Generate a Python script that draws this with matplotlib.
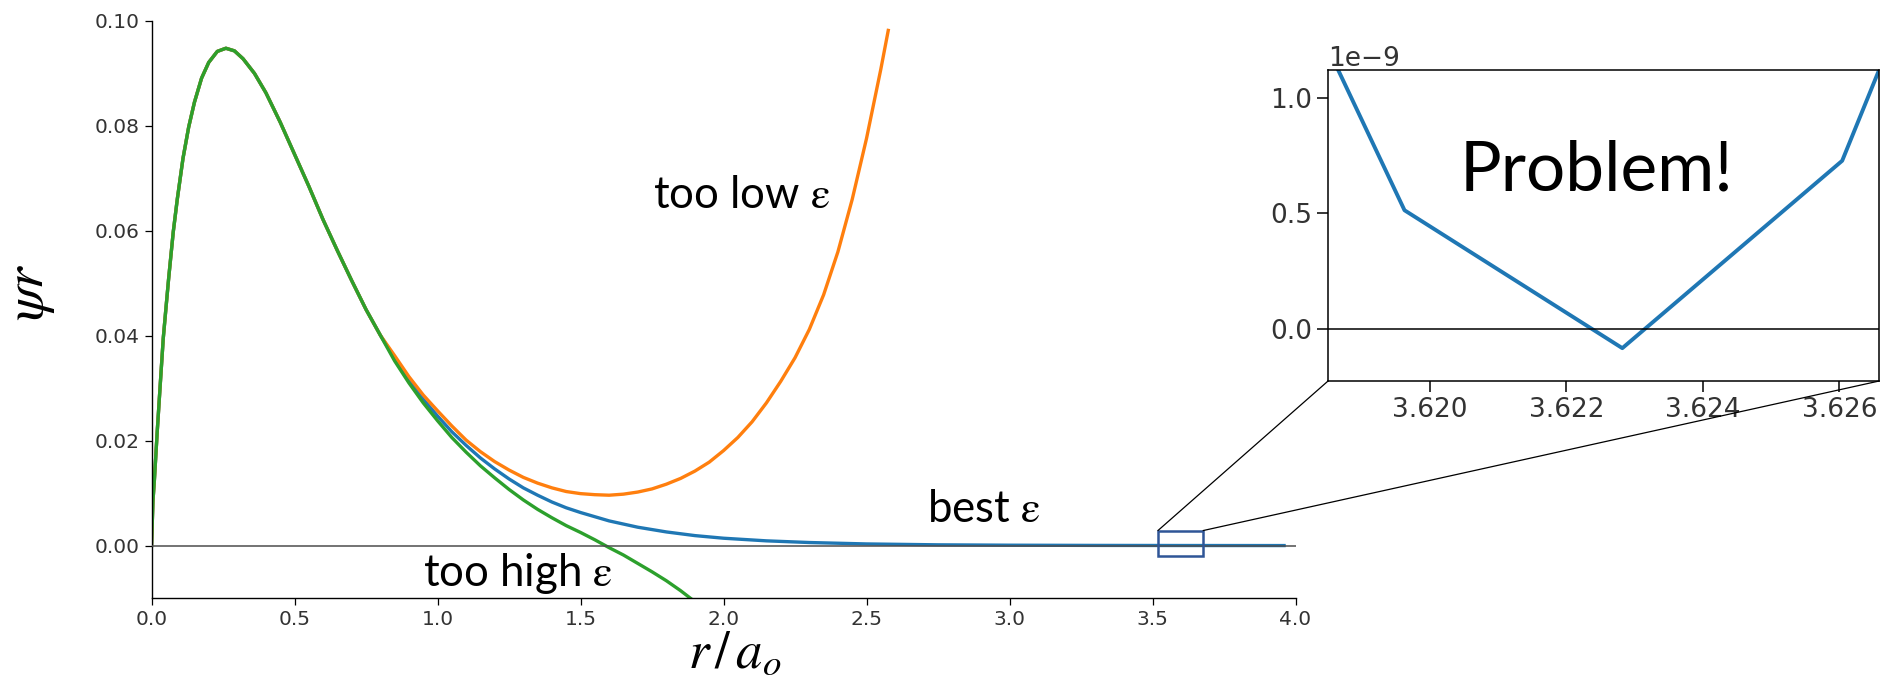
import matplotlib
matplotlib.use('Agg')
import matplotlib.pyplot as plt
from matplotlib.patches import Rectangle, ConnectionPatch

plt.rcParams['mathtext.fontset'] = 'stix'

# shared rising part of all three trial solutions
r_rise = [0.0, 0.005, 0.01, 0.02, 0.03, 0.041, 0.05, 0.06, 0.076, 0.09, 0.11, 0.13, 0.15,
          0.175, 0.20, 0.23, 0.26, 0.29, 0.32, 0.36, 0.40, 0.45, 0.50, 0.55, 0.60, 0.65,
          0.70, 0.75, 0.80]
psi_rise = [0.0, 0.0085, 0.0125, 0.0218, 0.0303, 0.0395, 0.0450, 0.0510, 0.0598, 0.0660,
            0.0738, 0.0798, 0.0845, 0.0891, 0.0921, 0.0942, 0.0948, 0.0943, 0.0928, 0.0900,
            0.0863, 0.0807, 0.0746, 0.0685, 0.0621, 0.0562, 0.0505, 0.0450, 0.0401]

# best epsilon
r_best = [0.85, 0.9, 0.95, 1.0, 1.05, 1.1, 1.15, 1.2, 1.25, 1.3, 1.35, 1.4, 1.45, 1.5,
          1.6, 1.7, 1.8, 1.9, 2.0, 2.15, 2.3, 2.5, 2.75, 3.0, 3.3, 3.6, 3.96]
psi_best = [0.0357, 0.0316, 0.0279, 0.0247, 0.0217, 0.0191, 0.0167, 0.0146, 0.0127, 0.0110,
            0.0096, 0.0083, 0.0072, 0.0063, 0.0047, 0.0035, 0.0026, 0.0019, 0.0014, 0.0009,
            0.00058, 0.00031, 0.00014, 0.00007, 0.00003, 0.00001, 0.0]

# too low epsilon
r_low = [0.85, 0.9, 0.95, 1.0, 1.05, 1.1, 1.15, 1.2, 1.25, 1.3, 1.35, 1.4, 1.45, 1.5, 1.55,
         1.6, 1.65, 1.7, 1.75, 1.8, 1.85, 1.9, 1.95, 2.0, 2.05, 2.1, 2.15, 2.2, 2.25, 2.3,
         2.35, 2.4, 2.45, 2.5, 2.55, 2.576]
psi_low = [0.0362, 0.0322, 0.0287, 0.0257, 0.0228, 0.0201, 0.0179, 0.0160, 0.0144, 0.0130,
           0.0119, 0.0110, 0.0103, 0.0099, 0.0097, 0.0096, 0.0098, 0.0102, 0.0108, 0.0117,
           0.0128, 0.0142, 0.0159, 0.0181, 0.0206, 0.0236, 0.0272, 0.0313, 0.0358, 0.0412,
           0.0478, 0.0560, 0.0660, 0.0776, 0.0908, 0.0982]

# too high epsilon
r_high = [0.85, 0.9, 0.95, 1.0, 1.05, 1.1, 1.15, 1.2, 1.25, 1.3, 1.35, 1.4, 1.45, 1.5, 1.55,
          1.6, 1.65, 1.7, 1.75, 1.8, 1.85, 1.9]
psi_high = [0.0352, 0.0310, 0.0272, 0.0238, 0.0206, 0.0178, 0.0152, 0.0129, 0.0107, 0.0087,
            0.0069, 0.0053, 0.0038, 0.0025, 0.0011, -0.0004, -0.0018, -0.0034, -0.0050,
            -0.0067, -0.0086, -0.0107]

# zoomed-in view of the best solution near its node
r_zoom = [3.61643, 3.61963, 3.62282, 3.62604, 3.62924]
psi_zoom = [2.51e-9, 0.513e-9, -0.083e-9, 0.727e-9, 3.05e-9]

fig = plt.figure(figsize=(18.8, 6.9), dpi=100)
ax = fig.add_axes([0.0806, 0.1333, 0.6085, 0.8363])
axins = fig.add_axes([0.7064, 0.4478, 0.2931, 0.4507])

ax.plot(r_rise + r_best, psi_rise + psi_best, color='#1f77b4', lw=2.4)
ax.plot(r_rise + r_low, psi_rise + psi_low, color='#ff7f0e', lw=2.4)
ax.plot(r_rise + r_high, psi_rise + psi_high, color='#2ca02c', lw=2.4)
ax.axhline(0, color='0.3', lw=1.1, zorder=3)

ax.set_xlim(0, 4)
ax.set_ylim(-0.01, 0.10)
ax.set_xticks([0, 0.5, 1.0, 1.5, 2.0, 2.5, 3.0, 3.5, 4.0])
ax.set_yticks([0, 0.02, 0.04, 0.06, 0.08, 0.10])
ax.spines['top'].set_visible(False)
ax.spines['right'].set_visible(False)
for s in ['left', 'bottom']:
    ax.spines[s].set_linewidth(1.0)
ax.tick_params(labelsize=14.5, labelcolor='0.2', length=5, width=0.9)

ax.set_xlabel(r'$r\,/\,a_o$', fontsize=38)
ax.xaxis.set_label_coords(0.51, -0.05)
ax.set_ylabel(r'$\psi r$', fontsize=40)
ax.yaxis.set_label_coords(-0.083, 0.53)

txt = dict(family=['Lato', 'DejaVu Sans'], fontsize=31.5, ha='left', va='baseline')
eps = r'$\mathrm{\varepsilon}$'
ax.text(1.753, 0.0644, 'too low ' + eps, **txt)
ax.text(2.711, 0.00457, 'best ' + eps, **txt)
ax.text(0.949, -0.0078, 'too high ' + eps, **txt)

# box marking the zoomed region
ax.add_patch(Rectangle((3.519, -0.0019), 0.158, 0.00476, fill=False,
                       edgecolor='#2F5597', lw=1.8, zorder=5))

# inset
axins.plot(r_zoom, psi_zoom, color='#1f77b4', lw=2.8)
axins.axhline(0, color='black', lw=1.1)
axins.set_xlim(3.61851, 3.62658)
axins.set_ylim(-0.225e-9, 1.119e-9)
axins.set_xticks([3.620, 3.622, 3.624, 3.626])
axins.set_yticks([0, 0.5e-9, 1.0e-9])
axins.ticklabel_format(axis='x', useOffset=False)
axins.tick_params(labelsize=19, labelcolor='0.2', length=8, width=1.1)
axins.yaxis.get_offset_text().set_fontsize(19)
axins.yaxis.get_offset_text().set_color('0.2')
for s in axins.spines.values():
    s.set_linewidth(1.1)
axins.text(0.2396, 0.614, 'Problem!', transform=axins.transAxes,
           family=['Lato', 'DejaVu Sans'], fontsize=50, ha='left', va='baseline')

for xa, xb in [(3.519, 0), (3.677, 1)]:
    con = ConnectionPatch(xyA=(xa, 0.00286), coordsA=ax.transData,
                          xyB=(xb, 0), coordsB=axins.transAxes,
                          color='black', lw=0.9)
    fig.add_artist(con)

fig.savefig('out.png', dpi=100)
